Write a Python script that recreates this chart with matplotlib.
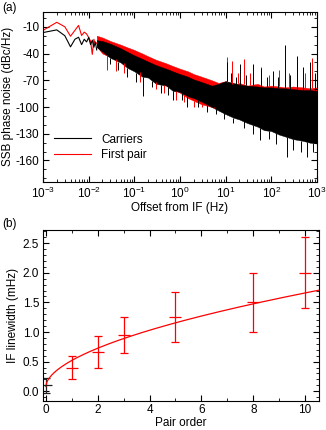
import matplotlib
matplotlib.use("Agg")
import matplotlib.pyplot as plt
import numpy as np
from matplotlib.ticker import MultipleLocator, LogLocator, NullFormatter

plt.rcParams['font.family'] = ['Liberation Sans', 'DejaVu Sans']
plt.rcParams['font.size'] = 8.5
plt.rcParams['mathtext.fontset'] = 'custom'
plt.rcParams['mathtext.rm'] = 'Liberation Sans'
plt.rcParams['mathtext.it'] = 'Liberation Sans:italic'
plt.rcParams['axes.unicode_minus'] = False

# --- panel (a): SSB phase noise ---
# low-frequency FFT bins (Hz)
f_low = [0.001, 0.002, 0.003, 0.004, 0.005, 0.006, 0.007, 0.008, 0.009, 0.010,
         0.011, 0.012, 0.013, 0.014, 0.015]
black_low = [-16.5, -13.5, -20, -32.5, -24, -21.7, -30, -24, -27, -22,
             -30, -25, -33, -27, -36]
red_low = [-14, -5, -10, -20.6, -14, -8.5, -19.8, -16, -18, -22,
           -26, -41, -24, -30, -28]

# dense part: top and bottom of the noisy band
f_band = [0.015, 0.02, 0.03, 0.05, 0.07, 0.1, 0.15, 0.2, 0.3, 0.5, 0.7,
          1, 1.5, 2, 3, 5, 7, 10, 15, 20, 30, 50, 70, 100, 150, 200, 300,
          500, 700, 1000]
black_top = [-25, -26, -29, -34, -38, -42, -46, -49, -53, -57, -60,
             -63, -66, -69, -72, -76, -74, -71, -73, -75, -76, -77, -78,
             -78, -79, -79, -80, -81, -81, -82]
black_bot = [-33, -38, -45, -50, -56, -60, -66, -67, -74, -76, -82,
             -83, -88, -90, -94, -100, -104, -108, -112, -114, -118, -122,
             -126, -127, -131, -133, -136, -138, -140, -141]
red_top = [-20, -22, -26, -30, -33, -36, -40, -43, -47, -51, -54,
           -57, -60, -63, -66, -70, -73, -71, -75, -73, -76, -74, -77,
           -76, -77, -78, -77, -78, -79, -78]
red_bot = [-32, -40, -44, -48, -52, -57, -62, -65, -72, -76, -80,
           -84, -90, -93, -97, -100, -102, -105, -110, -112, -116, -120,
           -124, -125, -129, -131, -134, -136, -138, -139]

# isolated spikes (frequency, tip value)
black_up_f = [10.5, 13, 17, 21, 28, 40, 60, 80, 110, 140, 200, 260, 360, 500, 700, 900]
black_up_v = [-50, -62, -66, -52, -64, -52, -56, -66, -60, -66, -30, -64, -43, -55, -50, -62]
black_dn_f = [0.03, 0.045, 0.07, 0.11, 0.156, 0.25, 0.39, 0.55, 0.71, 1.1, 1.4, 2.5,
              4, 6.3, 9, 14.7, 25, 40, 56, 90, 130, 218, 300, 450, 600, 830]
black_dn_v = [-52, -58, -66, -72, -88, -78, -84, -86, -92, -92, -100, -100,
              -106, -108, -114, -118, -124, -130, -137, -136, -142, -156, -148, -150, -156, -150]
red_up_f = [10.7, 14, 19, 25, 35, 60, 90, 150, 250, 360, 550, 800]
red_up_v = [-44, -48, -62, -46, -62, -55, -64, -58, -62, -50, -62, -45]
red_dn_f = [0.025, 0.04, 0.06, 0.13, 0.3, 0.45, 0.8, 1.2, 2, 3, 4, 5.5]
red_dn_v = [-58, -60, -62, -72, -80, -84, -92, -94, -100, -100, -103, -100]

# --- panel (b): IF linewidth vs pair order ---
pair_order = [1, 2, 3, 5, 8, 10]
linewidth = [0.40, 0.67, 0.95, 1.25, 1.50, 2.00]
lw_err = [0.20, 0.27, 0.31, 0.42, 0.50, 0.60]
carrier_x = [0]
carrier_y = [0.10]
carrier_err = [0.13]
# fitted curve y = c + a * n**p
fit_c, fit_a, fit_p = 0.08, 0.44, 0.555

fig = plt.figure(figsize=(3.26, 4.30), dpi=100)
ax1 = fig.add_axes([0.132, 0.577, 0.840, 0.396])
ax2 = fig.add_axes([0.131, 0.068, 0.848, 0.397])

red = '#ff0000'
for c, vl, top, bot, uf, uv, df, dv in [
        (red, red_low, red_top, red_bot, red_up_f, red_up_v, red_dn_f, red_dn_v),
        ('black', black_low, black_top, black_bot, black_up_f, black_up_v, black_dn_f, black_dn_v)]:
    ax1.plot(f_low, vl, color=c, lw=0.8)
    ax1.fill_between(f_band, bot, top, color=c, lw=0.3, edgecolor=c)
    top_at_u = np.interp(np.log10(uf), np.log10(f_band), top)
    ax1.vlines(uf, top_at_u, uv, color=c, lw=0.7)
    bot_at_d = np.interp(np.log10(df), np.log10(f_band), bot)
    ax1.vlines(df, bot_at_d, dv, color=c, lw=0.7)

ax1.plot([], [], color='black', lw=0.8, label='Carriers')
ax1.plot([], [], color=red, lw=0.8, label='First pair')

ax1.set_xscale('log')
ax1.set_xlim(1e-3, 1e3)
ax1.set_ylim(-184, 7)
ax1.set_yticks([-160, -130, -100, -70, -40, -10])
ax1.yaxis.set_minor_locator(MultipleLocator(10))
ax1.xaxis.set_major_locator(LogLocator(base=10, numticks=10))
ax1.xaxis.set_minor_locator(LogLocator(base=10, subs=np.arange(2, 10), numticks=20))
ax1.xaxis.set_minor_formatter(NullFormatter())
ax1.set_xlabel('Offset from IF (Hz)', labelpad=1)
ax1.set_ylabel('SSB phase noise (dBc/Hz)', labelpad=1)
ax1.legend(loc='lower left', bbox_to_anchor=(0.0, 0.06), frameon=False,
           handlelength=3.2, handletextpad=0.8, labelspacing=0.3)

ax2.errorbar(pair_order, linewidth, yerr=lw_err, fmt='_', color=red,
             ms=9, mew=0.9, elinewidth=0.9, capsize=3, capthick=0.9)
ax2.errorbar(carrier_x, carrier_y, yerr=carrier_err, fmt='_', color='#222222',
             ms=9, mew=0.9, elinewidth=0.9, capsize=3, capthick=0.9)
n_fit = np.linspace(0, 10.6, 300)
ax2.plot(n_fit, fit_c + fit_a * n_fit ** fit_p, color=red, lw=0.9)
ax2.set_xlim(-0.12, 10.54)
ax2.set_ylim(-0.16, 2.72)
ax2.set_xticks([0, 2, 4, 6, 8, 10])
ax2.xaxis.set_minor_locator(MultipleLocator(1))
ax2.set_yticks([0.0, 0.5, 1.0, 1.5, 2.0, 2.5])
ax2.yaxis.set_minor_locator(MultipleLocator(0.1))
ax2.set_xlabel('Pair order', labelpad=0.5)
ax2.set_ylabel('IF linewidth (mHz)', labelpad=3)

for ax in (ax1, ax2):
    ax.tick_params(which='both', direction='in', top=True, right=True, pad=2.5)
    ax.tick_params(which='major', length=4, width=0.8)
    ax.tick_params(which='minor', length=2, width=0.6)
    for s in ax.spines.values():
        s.set_linewidth(0.8)

fig.text(0.006, 0.995, '(a)', ha='left', va='top')
fig.text(0.006, 0.492, '(b)', ha='left', va='top')

fig.savefig('out.png', dpi=100)
